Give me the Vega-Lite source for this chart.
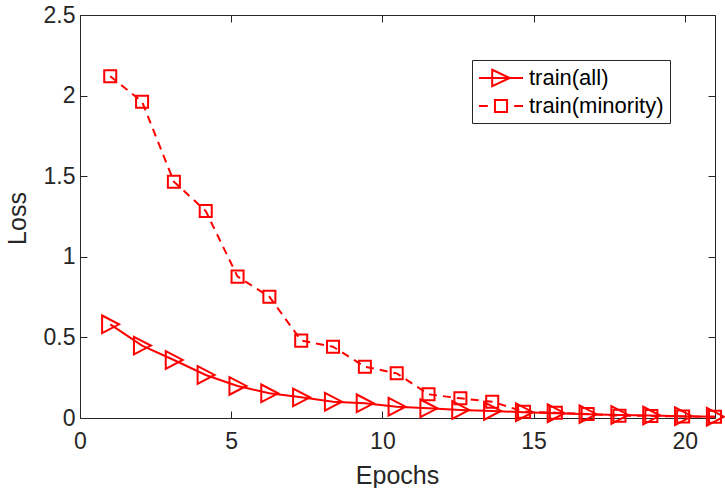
{
  "$schema": "https://vega.github.io/schema/vega-lite/v6.json",
  "width": 635,
  "height": 403,
  "autosize": {"type": "none"},
  "padding": {"left": 80, "top": 15, "right": 10, "bottom": 70},
  "background": "white",
  "config": {
    "view": {"stroke": null},
    "font": "Liberation Sans",
    "axis": {
      "grid": false,
      "domainColor": "#262626",
      "domainWidth": 1,
      "tickColor": "#262626",
      "tickSize": -7,
      "tickWidth": 1,
      "labelFont": "Liberation Sans",
      "labelFontSize": 23,
      "labelColor": "#262626",
      "labelFlush": false,
      "labelOverlap": false,
      "titleFont": "Liberation Sans",
      "titleFontSize": 25,
      "titleFontWeight": "normal",
      "titleColor": "#262626"
    }
  },
  "data": {
    "values": [
      {"epoch": 1.0, "series": "train(all)", "loss": 0.581},
      {"epoch": 2.053, "series": "train(all)", "loss": 0.449},
      {"epoch": 3.105, "series": "train(all)", "loss": 0.36},
      {"epoch": 4.158, "series": "train(all)", "loss": 0.267},
      {"epoch": 5.211, "series": "train(all)", "loss": 0.199},
      {"epoch": 6.263, "series": "train(all)", "loss": 0.153},
      {"epoch": 7.316, "series": "train(all)", "loss": 0.128},
      {"epoch": 8.368, "series": "train(all)", "loss": 0.101},
      {"epoch": 9.421, "series": "train(all)", "loss": 0.091},
      {"epoch": 10.474, "series": "train(all)", "loss": 0.07},
      {"epoch": 11.526, "series": "train(all)", "loss": 0.06},
      {"epoch": 12.579, "series": "train(all)", "loss": 0.05},
      {"epoch": 13.632, "series": "train(all)", "loss": 0.044},
      {"epoch": 14.684, "series": "train(all)", "loss": 0.036},
      {"epoch": 15.737, "series": "train(all)", "loss": 0.03},
      {"epoch": 16.789, "series": "train(all)", "loss": 0.024},
      {"epoch": 17.842, "series": "train(all)", "loss": 0.019},
      {"epoch": 18.895, "series": "train(all)", "loss": 0.015},
      {"epoch": 19.947, "series": "train(all)", "loss": 0.011},
      {"epoch": 21.0, "series": "train(all)", "loss": 0.008},
      {"epoch": 1.0, "series": "train(minority)", "loss": 2.12},
      {"epoch": 2.053, "series": "train(minority)", "loss": 1.962},
      {"epoch": 3.105, "series": "train(minority)", "loss": 1.466},
      {"epoch": 4.158, "series": "train(minority)", "loss": 1.284},
      {"epoch": 5.211, "series": "train(minority)", "loss": 0.877},
      {"epoch": 6.263, "series": "train(minority)", "loss": 0.752},
      {"epoch": 7.316, "series": "train(minority)", "loss": 0.48},
      {"epoch": 8.368, "series": "train(minority)", "loss": 0.442},
      {"epoch": 9.421, "series": "train(minority)", "loss": 0.318},
      {"epoch": 10.474, "series": "train(minority)", "loss": 0.277},
      {"epoch": 11.526, "series": "train(minority)", "loss": 0.147},
      {"epoch": 12.579, "series": "train(minority)", "loss": 0.122},
      {"epoch": 13.632, "series": "train(minority)", "loss": 0.101},
      {"epoch": 14.684, "series": "train(minority)", "loss": 0.039},
      {"epoch": 15.737, "series": "train(minority)", "loss": 0.033},
      {"epoch": 16.789, "series": "train(minority)", "loss": 0.025},
      {"epoch": 17.842, "series": "train(minority)", "loss": 0.014},
      {"epoch": 18.895, "series": "train(minority)", "loss": 0.013},
      {"epoch": 19.947, "series": "train(minority)", "loss": 0.009},
      {"epoch": 21.0, "series": "train(minority)", "loss": 0.008}
    ]
  },
  "resolve": {"axis": {"x": "independent", "y": "independent"}},
  "layer": [
    {
      "transform": [{"filter": "datum.series === 'train(all)'"}],
      "mark": {"type": "line", "color": "#ff0000", "strokeWidth": 2, "clip": false},
      "encoding": {
        "x": {
          "field": "epoch", "type": "quantitative",
          "scale": {"domain": [0, 21], "nice": false, "zero": false},
          "axis": {"orient": "bottom", "values": [0, 5, 10, 15, 20], "labelPadding": 19, "title": "Epochs", "titleX": 317, "titleY": 65.5, "titleBaseline": "alphabetic", "titleAlign": "center"}
        },
        "y": {
          "field": "loss", "type": "quantitative",
          "scale": {"domain": [0, 2.5], "nice": false},
          "axis": {"orient": "left", "values": [0, 0.5, 1, 1.5, 2, 2.5], "format": "~g", "labelPadding": 12, "title": "Loss", "titleX": -55, "titleY": 203, "titleAngle": -90, "titleBaseline": "alphabetic", "titleAlign": "center"}
        }
      }
    },
    {
      "transform": [{"filter": "datum.series === 'train(minority)'"}],
      "mark": {"type": "line", "color": "#ff0000", "strokeWidth": 2, "strokeDash": [8, 6], "clip": false},
      "encoding": {
        "x": {"field": "epoch", "type": "quantitative", "axis": null},
        "y": {"field": "loss", "type": "quantitative", "axis": null}
      }
    },
    {
      "transform": [{"filter": "datum.series === 'train(all)'"}],
      "mark": {"type": "point", "filled": false, "color": "#ff0000", "strokeWidth": 2, "opacity": 1, "size": 200, "shape": "M-1.15,-1.25L1.25,0L-1.15,1.25Z", "clip": false},
      "encoding": {
        "x": {
          "field": "epoch", "type": "quantitative",
          "axis": {"orient": "top", "values": [0, 5, 10, 15, 20], "labels": false, "title": null}
        },
        "y": {
          "field": "loss", "type": "quantitative",
          "axis": {"orient": "right", "values": [0, 0.5, 1, 1.5, 2, 2.5], "labels": false, "title": null}
        }
      }
    },
    {
      "transform": [{"filter": "datum.series === 'train(minority)'"}],
      "mark": {"type": "point", "filled": false, "color": "#ff0000", "strokeWidth": 2, "opacity": 1, "size": 200, "shape": "M-0.85,-0.85H0.85V0.85H-0.85Z", "clip": false},
      "encoding": {
        "x": {"field": "epoch", "type": "quantitative", "axis": null},
        "y": {"field": "loss", "type": "quantitative", "axis": null}
      }
    },
    {
      "mark": {"type": "point", "filled": false, "color": "#ff0000", "strokeWidth": 2, "opacity": 0, "size": 200, "clip": false},
      "encoding": {
        "x": {"field": "epoch", "type": "quantitative", "axis": null},
        "y": {"field": "loss", "type": "quantitative", "axis": null},
        "shape": {
          "field": "series", "type": "nominal",
          "scale": {"domain": ["train(all)", "train(minority)"], "range": ["M-1,0H3M0.2,-0.75L1.8,0L0.2,0.75Z", "M-1,0H-0.2M2.2,0H3M0.45,-0.55H1.55V0.55H0.45Z"]},
          "legend": {
            "title": null,
            "orient": "none",
            "legendX": 392,
            "legendY": 45,
            "padding": 6,
            "rowPadding": 3,
            "fillColor": "white",
            "strokeColor": "#262626",
            "labelFont": "Liberation Sans",
            "labelFontSize": 22,
            "labelColor": "#000000",
            "labelOffset": 27,
            "labelLimit": 400,
            "symbolSize": 484,
            "symbolStrokeWidth": 2,
            "symbolStrokeColor": "#ff0000",
            "symbolFillColor": "transparent",
            "symbolOpacity": 1
          }
        }
      }
    }
  ]
}
